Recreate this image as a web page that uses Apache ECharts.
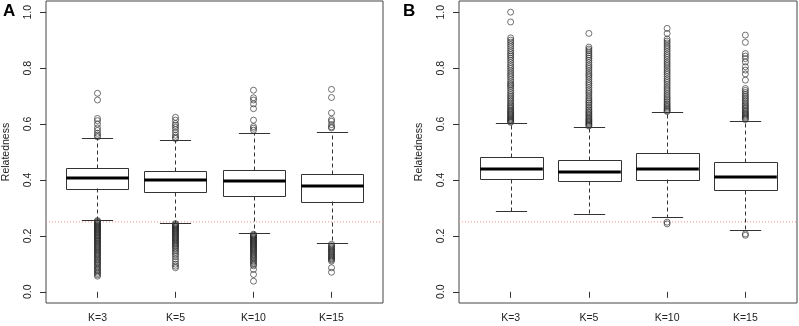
<!DOCTYPE html>
<html>
<head>
<meta charset="utf-8">
<script src="https://cdn.jsdelivr.net/npm/echarts@6/dist/echarts.min.js"></script>
<style>
  html, body { margin: 0; padding: 0; background: #fff; }
  #main { width: 799px; height: 326px; }
</style>
</head>
<body>
<div id="main"></div>
<script>
// K 值分组
var categories = ['K=3', 'K=5', 'K=10', 'K=15'];
var yTicks = [0, 0.2, 0.4, 0.6, 0.8, 1.0];
var xTicks = [1, 2, 3, 4];
var xRange = [0.34, 4.66];
var yRange = [-0.04, 1.04];
var refLine = 0.25;

// 箱线: [下须, Q1, 中位数, Q3, 上须]
var boxA = [
    [0.258, 0.370, 0.407, 0.444, 0.549],
    [0.246, 0.356, 0.399, 0.431, 0.543],
    [0.210, 0.342, 0.395, 0.435, 0.567],
    [0.175, 0.323, 0.377, 0.423, 0.570]
];
var boxB = [
    [0.290, 0.404, 0.439, 0.483, 0.602],
    [0.280, 0.395, 0.429, 0.471, 0.590],
    [0.268, 0.402, 0.439, 0.498, 0.642],
    [0.220, 0.363, 0.412, 0.463, 0.611]
];

// 离群点 (图A)
var outA_k3 = [0.710, 0.686, 0.620, 0.612, 0.600, 0.586, 0.577, 0.567, 0.560, 0.554,
    0.255, 0.252, 0.249, 0.246, 0.243, 0.240, 0.237, 0.234, 0.231, 0.228, 0.225, 0.222, 0.219, 0.216,
    0.213, 0.210, 0.206, 0.203, 0.200, 0.196, 0.193, 0.190, 0.186, 0.183, 0.180, 0.176, 0.172, 0.169,
    0.165, 0.161, 0.158, 0.154, 0.150, 0.146, 0.142, 0.138, 0.134, 0.130, 0.126, 0.121, 0.117, 0.113,
    0.108, 0.104, 0.100, 0.095, 0.090, 0.085, 0.080, 0.076, 0.071, 0.066, 0.061, 0.056];
var outA_k5 = [0.624, 0.614, 0.602, 0.595, 0.588, 0.580, 0.570, 0.560, 0.553, 0.548,
    0.244, 0.241, 0.238, 0.235, 0.232, 0.229, 0.226, 0.223, 0.220, 0.217, 0.214, 0.211, 0.207, 0.204,
    0.200, 0.197, 0.193, 0.190, 0.186, 0.182, 0.178, 0.174, 0.170, 0.166, 0.162, 0.157, 0.152, 0.146,
    0.140, 0.133, 0.126, 0.117, 0.108, 0.099, 0.092, 0.086];
var outA_k10 = [0.721, 0.694, 0.686, 0.672, 0.655, 0.614, 0.591, 0.585, 0.578,
    0.206, 0.203, 0.200, 0.197, 0.194, 0.191, 0.188, 0.185, 0.182, 0.179, 0.176, 0.173, 0.170, 0.167,
    0.164, 0.160, 0.157, 0.153, 0.150, 0.146, 0.142, 0.138, 0.134, 0.130, 0.126, 0.122, 0.118, 0.113,
    0.108, 0.103, 0.098, 0.093, 0.080, 0.062, 0.038];
var outA_k15 = [0.724, 0.695, 0.640, 0.616, 0.610, 0.598, 0.590, 0.586,
    0.170, 0.165, 0.161, 0.157, 0.153, 0.149, 0.145, 0.142, 0.137, 0.133, 0.129, 0.125, 0.121, 0.118,
    0.114, 0.110, 0.086, 0.070];

// 离群点 (图B)
var outB_k3 = [1.000, 0.965, 0.908, 0.900, 0.893, 0.885, 0.878, 0.870, 0.862, 0.855, 0.848, 0.842,
    0.835, 0.828, 0.820, 0.812, 0.805, 0.798, 0.790, 0.782, 0.775, 0.768, 0.760, 0.752, 0.745, 0.740,
    0.735, 0.728, 0.720, 0.713, 0.706, 0.700, 0.694, 0.688, 0.682, 0.676, 0.670, 0.665, 0.660, 0.655,
    0.650, 0.646, 0.642, 0.638, 0.634, 0.630, 0.626, 0.622, 0.618, 0.615, 0.612, 0.609, 0.606];
var outB_k5 = [0.924, 0.875, 0.868, 0.862, 0.855, 0.848, 0.842, 0.835, 0.828, 0.820, 0.812, 0.805,
    0.798, 0.790, 0.782, 0.775, 0.768, 0.760, 0.752, 0.745, 0.738, 0.730, 0.722, 0.715, 0.708, 0.700,
    0.693, 0.686, 0.680, 0.674, 0.668, 0.662, 0.656, 0.650, 0.645, 0.640, 0.635, 0.630, 0.625, 0.620,
    0.616, 0.612, 0.608, 0.604, 0.600, 0.596, 0.593];
var outB_k10 = [0.942, 0.924, 0.904, 0.897, 0.890, 0.882, 0.875, 0.868, 0.860, 0.852, 0.845, 0.838,
    0.830, 0.822, 0.815, 0.808, 0.800, 0.792, 0.785, 0.778, 0.770, 0.762, 0.755, 0.748, 0.740, 0.732,
    0.725, 0.718, 0.710, 0.703, 0.696, 0.690, 0.684, 0.678, 0.672, 0.667, 0.662, 0.657, 0.652, 0.648,
    0.645, 0.249, 0.243];
var outB_k15 = [0.918, 0.892, 0.852, 0.843, 0.834, 0.822, 0.805, 0.793, 0.779, 0.757, 0.727, 0.720,
    0.713, 0.706, 0.700, 0.694, 0.688, 0.682, 0.676, 0.670, 0.665, 0.660, 0.655, 0.650, 0.645, 0.640,
    0.636, 0.632, 0.628, 0.624, 0.620, 0.616, 0.207, 0.202];

var fontFam = 'Liberation Sans, Arial, sans-serif';

function boxData(list) {
    return list.map(function (b, i) {
        return [i + 1].concat(b);
    });
}
function outData(lists) {
    var res = [];
    lists.forEach(function (l, i) {
        l.forEach(function (v) { res.push([i + 1, v]); });
    });
    return res;
}

// R风格的箱线图：虚线须、粗中位线
function renderBox(params, api) {
    var x = api.value(0);
    var lo = api.coord([x, api.value(1)]);
    var q1 = api.coord([x, api.value(2)]);
    var md = api.coord([x, api.value(3)]);
    var q3 = api.coord([x, api.value(4)]);
    var hi = api.coord([x, api.value(5)]);
    var w = api.size([0.8, 0])[0];
    var cx = Math.round(q1[0]) + 0.5;
    var r = function (v) { return Math.round(v) + 0.5; };
    var stroke = '#333';
    return {
        type: 'group',
        children: [
            { type: 'line', shape: { x1: cx, y1: r(q3[1]), x2: cx, y2: r(hi[1]) },
              style: { stroke: stroke, lineWidth: 1, lineDash: [4, 3] } },
            { type: 'line', shape: { x1: cx, y1: r(q1[1]), x2: cx, y2: r(lo[1]) },
              style: { stroke: stroke, lineWidth: 1, lineDash: [4, 3] } },
            { type: 'line', shape: { x1: cx - w / 4, y1: r(hi[1]), x2: cx + w / 4, y2: r(hi[1]) },
              style: { stroke: stroke, lineWidth: 1 } },
            { type: 'line', shape: { x1: cx - w / 4, y1: r(lo[1]), x2: cx + w / 4, y2: r(lo[1]) },
              style: { stroke: stroke, lineWidth: 1 } },
            { type: 'rect', shape: { x: r(cx - w / 2), y: r(q3[1]), width: Math.round(w), height: Math.round(q1[1] - q3[1]) },
              style: { stroke: stroke, lineWidth: 1, fill: 'none' } },
            { type: 'line', shape: { x1: cx - w / 2, y1: Math.round(md[1]), x2: cx + w / 2, y2: Math.round(md[1]) },
              style: { stroke: '#000', lineWidth: 3 } }
        ]
    };
}

function xAx(idx) {
    return {
        type: 'value', gridIndex: idx, min: xRange[0], max: xRange[1],
        splitLine: { show: false },
        axisLine: { show: false },
        axisTick: { show: true, customValues: xTicks, length: 6, lineStyle: { color: '#333' } },
        axisLabel: {
            customValues: xTicks, margin: 10, fontSize: 10.5, color: '#222', fontFamily: fontFam,
            formatter: function (v) { return categories[Math.round(v) - 1] || ''; }
        }
    };
}
function yAx(idx) {
    return {
        type: 'value', gridIndex: idx, min: yRange[0], max: yRange[1],
        name: 'Relatedness', nameLocation: 'middle', nameRotate: 90, nameGap: 34,
        nameTextStyle: { fontSize: 10.5, color: '#222', fontFamily: fontFam },
        splitLine: { show: false },
        axisLine: { show: false },
        axisTick: { show: true, customValues: yTicks, length: 6, lineStyle: { color: '#333' } },
        axisLabel: {
            customValues: yTicks, rotate: 90, margin: 12, fontSize: 10.5, color: '#222', fontFamily: fontFam,
            formatter: function (v) { return v.toFixed(1); }
        }
    };
}

// 0.25 参考线（横跨整个绘图区）
function refSeries(idx) {
    return {
        type: 'line', xAxisIndex: idx, yAxisIndex: idx, symbol: 'none', silent: true,
        color: '#f08c8c', z: 1,
        lineStyle: { color: '#f08c8c', type: [1, 2], width: 1 },
        data: [[xRange[0], refLine], [xRange[1], refLine]]
    };
}

var outStyle = { color: 'rgba(0,0,0,0)', borderColor: '#222', borderWidth: 0.8 };

var myChart = echarts.init(document.getElementById('main'));
var option = {
    animation: false,
    backgroundColor: '#fff',
    title: [
        { text: 'A', left: 3, top: 3, padding: 0,
          textStyle: { fontSize: 17, fontWeight: 'bold', color: '#000', fontFamily: fontFam } },
        { text: 'B', left: 403, top: 3, padding: 0,
          textStyle: { fontSize: 17, fontWeight: 'bold', color: '#000', fontFamily: fontFam } }
    ],
    grid: [
        { left: 45, top: 1, width: 338, height: 302, show: true, borderColor: '#444', borderWidth: 1, backgroundColor: 'transparent' },
        { left: 459, top: 1, width: 338, height: 302, show: true, borderColor: '#444', borderWidth: 1, backgroundColor: 'transparent' }
    ],
    xAxis: [xAx(0), xAx(1)],
    yAxis: [yAx(0), yAx(1)],
    series: [
        refSeries(0),
        refSeries(1),
        { type: 'custom', xAxisIndex: 0, yAxisIndex: 0, renderItem: renderBox,
          data: boxData(boxA), z: 3 },
        { type: 'scatter', xAxisIndex: 0, yAxisIndex: 0, symbol: 'circle', symbolSize: 6,
          itemStyle: outStyle, data: outData([outA_k3, outA_k5, outA_k10, outA_k15]) },
        { type: 'custom', xAxisIndex: 1, yAxisIndex: 1, renderItem: renderBox,
          data: boxData(boxB), z: 3 },
        { type: 'scatter', xAxisIndex: 1, yAxisIndex: 1, symbol: 'circle', symbolSize: 6,
          itemStyle: outStyle, data: outData([outB_k3, outB_k5, outB_k10, outB_k15]) }
    ]
};
myChart.setOption(option);
window.addEventListener('resize', function () {
    myChart.resize();
});
</script>
</body>
</html>
